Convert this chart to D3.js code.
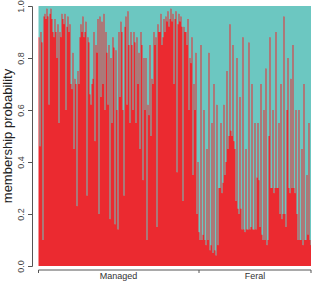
<!DOCTYPE html>
<html>
<head>
<meta charset="utf-8">
<script src="https://cdn.jsdelivr.net/npm/d3@7"></script>
<style>
  body { margin: 0; background: #fff; }
  text { font-family: "Liberation Sans", Arial, sans-serif; }
</style>
</head>
<body>
<div id="chart"></div>
<script>
// red (cluster 1) membership for each individual, left to right
const managed = [
  0.88, 0.46, 0.9, 0.86, 0.1,
  0.96, 0.97, 0.95, 0.99, 0.96, 0.62, 0.97, 0.99, 0.95,
  0.9, 0.88, 0.95, 0.9, 0.8, 0.93, 0.55, 0.9, 0.88, 0.97,
  0.95, 0.93, 0.97, 0.6, 0.92, 0.96, 0.9, 0.93,
  0.7, 0.68, 0.82, 0.45, 0.72, 0.7, 0.23, 0.75, 0.7, 0.88,
  0.93, 0.9, 0.96, 0.88, 0.9, 0.94, 0.27, 0.88, 0.86, 0.66, 0.62,
  0.7, 0.72, 0.9, 0.48, 0.85, 0.82, 0.95,
  0.2, 0.96, 0.65, 0.94, 0.7, 0.97, 0.6, 0.9,
  0.82, 0.62, 0.85, 0.18, 0.8, 0.55, 0.88, 0.84, 0.16, 0.83, 0.6, 0.14,
  0.9, 0.65, 0.94, 0.9, 0.6, 0.27, 0.92, 0.96, 0.62, 0.98, 0.85, 0.55, 0.9,
  0.85, 0.6, 0.9, 0.86, 0.55, 0.88, 0.7, 0.82, 0.45, 0.9, 0.85, 0.33, 0.8,
  0.6, 0.8, 0.1, 0.62, 0.58, 0.85, 0.5, 0.72, 0.7, 0.9, 0.85,
  0.88, 0.15, 0.93, 0.9, 0.9, 0.97, 0.85, 0.88, 0.95, 0.9,
  0.96, 0.94, 0.98, 0.92, 0.95, 0.99, 0.94, 0.97, 0.7, 0.95,
  0.98, 0.36, 0.93, 0.97, 0.94, 0.96, 0.92, 0.25, 0.92, 0.9,
  0.9, 0.85, 0.95, 0.6, 0.8, 0.78, 0.88, 0.35, 0.7, 0.6, 0.82, 0.2, 0.4,
  0.13
];

const feral = [
  0.1, 0.85, 0.1, 0.12, 0.6, 0.1, 0.08, 0.45, 0.1,
  0.82, 0.06, 0.08, 0.55, 0.05, 0.7, 0.06, 0.04, 0.62, 0.08,
  0.3, 0.3, 0.55, 0.28, 0.32, 0.62, 0.35,
  0.4, 0.75, 0.45, 0.5, 0.93, 0.52, 0.5, 0.85, 0.48, 0.45,
  0.25, 0.8, 0.22, 0.2, 0.65, 0.22,
  0.14, 0.88, 0.14, 0.13, 0.45, 0.14, 0.14, 0.86, 0.14, 0.15, 0.7, 0.14, 0.14, 0.55, 0.14,
  0.34, 0.55, 0.33,
  0.15, 0.7, 0.12, 0.1, 0.6, 0.1, 0.76, 0.08, 0.1, 0.5,
  0.88, 0.3, 0.3, 0.6, 0.28, 0.3, 0.9, 0.3, 0.3, 0.55,
  0.2, 0.7, 0.18, 0.2, 0.96, 0.2, 0.15, 0.6,
  0.8, 0.3, 0.28, 0.72, 0.3, 0.85, 0.3, 0.28, 0.6, 0.2,
  0.1, 0.6, 0.1, 0.1, 0.45, 0.08, 0.7, 0.1, 0.1, 0.35, 0.12, 0.55, 0.1, 0.08
];

const groups = ["Managed", "Feral"];
const yTicks = [0, 0.2, 0.4, 0.6, 0.8, 1.0];
const colors = ["#eb2a30", "#6cc7c1"];

const W = 312, H = 281;
const plot = { left: 38, right: 311, top: 6, bottom: 266 };

const data = [];
managed.forEach(v => data.push({ group: "Managed", q: v }));
feral.forEach(v => data.push({ group: "Feral", q: v }));

const svg = d3.select("#chart").append("svg")
  .attr("width", W)
  .attr("height", H);

const x = d3.scaleBand()
  .domain(d3.range(data.length))
  .range([plot.left + 0.5, plot.right + 0.5])
  .padding(0);

const y = d3.scaleLinear()
  .domain([0, 1])
  .range([plot.bottom, plot.top]);

svg.append("clipPath").attr("id", "clip")
  .append("rect")
  .attr("x", plot.left).attr("y", plot.top)
  .attr("width", plot.right - plot.left)
  .attr("height", plot.bottom - plot.top);

// one group per individual, drawn in order; each bar is a bit wider so
// neighbours blend into each other without white seams
const bw = x.bandwidth() + 1;
const bar = svg.append("g").attr("clip-path", "url(#clip)")
  .selectAll("g")
  .data(data)
  .join("g")
  .attr("transform", (d, i) => `translate(${x(i)},0)`);

bar.append("rect")
  .attr("y", y(1))
  .attr("width", bw)
  .attr("height", d => y(d.q) - y(1))
  .attr("fill", colors[1]);

bar.append("rect")
  .attr("y", d => y(d.q))
  .attr("width", bw)
  .attr("height", d => y(0) - y(d.q))
  .attr("fill", colors[0]);

// y axis, labels rotated like R's default
const yAxis = svg.append("g")
  .attr("transform", "translate(32,0)")
  .call(d3.axisLeft(y).tickValues(yTicks).tickFormat(d3.format(".1f")).tickSize(4));
yAxis.selectAll("path, line").attr("stroke", "#555");
yAxis.selectAll(".tick text")
  .attr("fill", "#444")
  .style("font-size", "9px")
  .attr("text-anchor", "middle")
  .attr("transform", "rotate(-90)")
  .attr("x", 0)
  .attr("y", -8)
  .attr("dy", null);

svg.append("text")
  .attr("transform", `translate(12,${(plot.top + plot.bottom) / 2}) rotate(-90)`)
  .attr("text-anchor", "middle")
  .style("font-size", "13px")
  .attr("fill", "#222")
  .text("membership probability");

// x axis with group separators
const boundary = x(managed.length) - 0.5;
const xAxisY = 270;
svg.append("line")
  .attr("x1", plot.left + 0.5).attr("x2", plot.right)
  .attr("y1", xAxisY).attr("y2", xAxisY)
  .attr("stroke", "#555");
[plot.left + 0.5, boundary, plot.right].forEach(tx => {
  svg.append("line")
    .attr("x1", tx).attr("x2", tx)
    .attr("y1", xAxisY).attr("y2", xAxisY + 3)
    .attr("stroke", "#555");
});

const centers = [(plot.left + boundary) / 2, (boundary + plot.right) / 2];
svg.selectAll("text.group")
  .data(groups)
  .join("text")
  .attr("class", "group")
  .attr("x", (d, i) => centers[i])
  .attr("y", 279)
  .attr("text-anchor", "middle")
  .style("font-size", "9px")
  .attr("fill", "#333")
  .text(d => d);
</script>
</body>
</html>
